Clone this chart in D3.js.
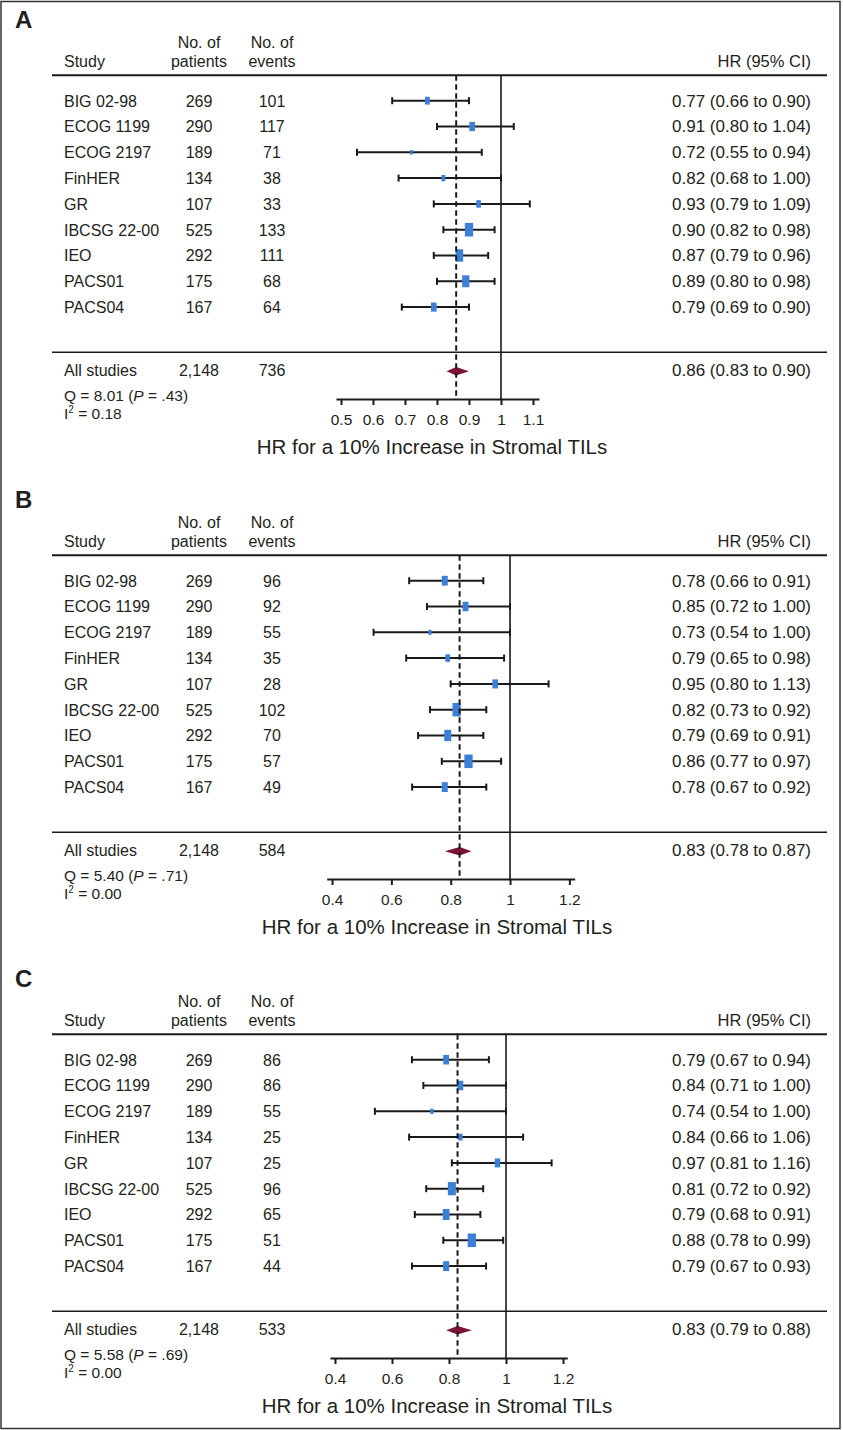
<!DOCTYPE html>
<html><head><meta charset="utf-8">
<script src="https://cdn.jsdelivr.net/npm/d3@7"></script>
<style>
html,body{margin:0;padding:0;background:#fff;}
svg{display:block;}
text{font-family:"Liberation Sans",Arial,Helvetica,sans-serif;fill:#231f20;}
</style></head>
<body>
<svg id="chart" width="843" height="1430"></svg>
<script>
// ---------- data ----------
const studies = ["BIG 02-98","ECOG 1199","ECOG 2197","FinHER","GR","IBCSG 22-00","IEO","PACS01","PACS04"];
const patients = [269,290,189,134,107,525,292,175,167];
const totalPatients = "2,148";

const eventsA = [101,117,71,38,33,133,111,68,64];
const hrA = [0.77,0.91,0.72,0.82,0.93,0.90,0.87,0.89,0.79];
const loA = [0.66,0.80,0.55,0.68,0.79,0.82,0.79,0.80,0.69];
const hiA = [0.90,1.04,0.94,1.00,1.09,0.98,0.96,0.98,0.90];
const pooledA = {events:736, hr:0.86, lo:0.83, hi:0.90, q:"8.01", p:".43", i2:"0.18"};
const ticksA = [0.5,0.6,0.7,0.8,0.9,1,1.1];
const domainA = [0.4844,1.1188];

const eventsB = [96,92,55,35,28,102,70,57,49];
const hrB = [0.78,0.85,0.73,0.79,0.95,0.82,0.79,0.86,0.78];
const loB = [0.66,0.72,0.54,0.65,0.80,0.73,0.69,0.77,0.67];
const hiB = [0.91,1.00,1.00,0.98,1.13,0.92,0.91,0.97,0.92];
const pooledB = {events:584, hr:0.83, lo:0.78, hi:0.87, q:"5.40", p:".71", i2:"0.00"};
const ticksB = [0.4,0.6,0.8,1,1.2];
const domainB = [0.382,1.218];

const eventsC = [86,86,55,25,25,96,65,51,44];
const hrC = [0.79,0.84,0.74,0.84,0.97,0.81,0.79,0.88,0.79];
const loC = [0.67,0.71,0.54,0.66,0.81,0.72,0.68,0.78,0.67];
const hiC = [0.94,1.00,1.00,1.06,1.16,0.92,0.91,0.99,0.93];
const pooledC = {events:533, hr:0.83, lo:0.79, hi:0.88, q:"5.58", p:".69", i2:"0.00"};
const ticksC = [0.4,0.6,0.8,1,1.2];
const domainC = [0.3825,1.215];

const panelLabels = ["A","B","C"];
const axisTitle = "HR for a 10% Increase in Stromal TILs";

// ---------- layout ----------
const svg = d3.select("#chart");
svg.append("rect").attr("x",1).attr("y",1.5).attr("width",839).attr("height",1427)
  .attr("fill","none").attr("stroke","#333").attr("stroke-width",1.5);

const L = {
  letterX:15, letterY:28, hdr1Y:47.5, hdr2Y:66.5, hdrLineY:75.3,
  row0:100.7, rowStep:25.8, sepY:352.3, allY:371.3, qY:401, i2Y:419.3,
  axisY:399, titleY:454, lineX0:52, lineX1:827,
  studyX:64, patX:199, evX:272, hrX:811
};
const fmt = d3.format(".2f");
const blue = "#3b7fd6", dred = "#7d1434", ink = "#1a1a1a";

function drawPanel(offsetY, label, events, hr, lo, hi, pooled, ticks, domain, range, titleX){
  const g = svg.append("g").attr("transform",`translate(0,${offsetY})`);
  const x = d3.scaleLinear().domain(domain).range(range);
  const rowY = d3.scaleLinear().domain([0,1]).range([L.row0, L.row0+L.rowStep]);

  g.append("text").attr("x",L.letterX).attr("y",L.letterY).text(label)
    .style("font-size","24px").style("font-weight","bold");

  // headers
  const h = g.append("g").style("font-size","16px");
  h.append("text").attr("x",L.studyX).attr("y",L.hdr2Y).text("Study");
  h.append("text").attr("x",L.patX).attr("y",L.hdr1Y).attr("text-anchor","middle").text("No. of");
  h.append("text").attr("x",L.patX).attr("y",L.hdr2Y).attr("text-anchor","middle").text("patients");
  h.append("text").attr("x",L.evX).attr("y",L.hdr1Y).attr("text-anchor","middle").text("No. of");
  h.append("text").attr("x",L.evX).attr("y",L.hdr2Y).attr("text-anchor","middle").text("events");
  h.append("text").attr("x",L.hrX).attr("y",L.hdr2Y).attr("text-anchor","end").style("font-size","16.5px").text("HR (95% CI)");

  g.append("line").attr("x1",L.lineX0).attr("x2",L.lineX1).attr("y1",L.hdrLineY).attr("y2",L.hdrLineY)
    .attr("stroke",ink).attr("stroke-width",2);
  g.append("line").attr("x1",L.lineX0).attr("x2",L.lineX1).attr("y1",L.sepY).attr("y2",L.sepY)
    .attr("stroke",ink).attr("stroke-width",1.6);

  // weights (inverse variance from CI) -> box size
  const w = hr.map((d,i)=>{const se=(Math.log(hi[i])-Math.log(lo[i]))/3.92; return 1/(se*se);});
  const side = d3.scaleSqrt().domain([0,d3.max(w)]).range([0,10.6]);

  const rows = g.append("g").selectAll("g").data(studies).join("g")
    .attr("transform",(d,i)=>`translate(0,${rowY(i)})`);
  rows.append("text").attr("x",L.studyX).attr("y",5.8).style("font-size","16px").text(d=>d);
  rows.append("text").attr("x",L.patX).attr("y",5.8).attr("text-anchor","middle").style("font-size","16px").text((d,i)=>patients[i]);
  rows.append("text").attr("x",L.evX).attr("y",5.8).attr("text-anchor","middle").style("font-size","16px").text((d,i)=>events[i]);
  rows.append("text").attr("x",L.hrX).attr("y",5.8).attr("text-anchor","end").style("font-size","17px")
    .text((d,i)=>`${fmt(hr[i])} (${fmt(lo[i])} to ${fmt(hi[i])})`);
  rows.append("line").attr("x1",(d,i)=>x(lo[i])).attr("x2",(d,i)=>x(hi[i])).attr("y1",0).attr("y2",0)
    .attr("stroke",ink).attr("stroke-width",2);
  rows.append("line").attr("x1",(d,i)=>x(lo[i])).attr("x2",(d,i)=>x(lo[i])).attr("y1",-3.5).attr("y2",3.5)
    .attr("stroke",ink).attr("stroke-width",2);
  rows.append("line").attr("x1",(d,i)=>x(hi[i])).attr("x2",(d,i)=>x(hi[i])).attr("y1",-3.5).attr("y2",3.5)
    .attr("stroke",ink).attr("stroke-width",2);
  rows.append("rect")
    .attr("x",(d,i)=>x(hr[i])-side(w[i])*0.78/2).attr("y",(d,i)=>-side(w[i])*1.28/2)
    .attr("width",(d,i)=>side(w[i])*0.78).attr("height",(d,i)=>side(w[i])*1.28)
    .attr("fill",blue);

  // pooled row
  const fs = g.append("g");
  fs.append("text").attr("x",L.studyX).attr("y",L.allY+5).style("font-size","16px").text("All studies");
  fs.append("text").attr("x",L.patX).attr("y",L.allY+5).attr("text-anchor","middle").style("font-size","16px").text(totalPatients);
  fs.append("text").attr("x",L.evX).attr("y",L.allY+5).attr("text-anchor","middle").style("font-size","16px").text(pooled.events);
  fs.append("text").attr("x",L.hrX).attr("y",L.allY+5).attr("text-anchor","end").style("font-size","17px")
    .text(`${fmt(pooled.hr)} (${fmt(pooled.lo)} to ${fmt(pooled.hi)})`);
  const q = fs.append("text").attr("x",L.studyX).attr("y",L.qY).style("font-size","15.5px");
  q.append("tspan").text(`Q = ${pooled.q} (`);
  q.append("tspan").style("font-style","italic").text("P");
  q.append("tspan").text(` = ${pooled.p})`);
  const i2 = fs.append("text").attr("x",L.studyX).attr("y",L.i2Y).style("font-size","15.5px");
  i2.append("tspan").text("I");
  i2.append("tspan").attr("dy",-6).style("font-size","10px").text("2");
  i2.append("tspan").attr("dy",6).text(` = ${pooled.i2}`);

  fs.append("path")
    .attr("d",`M${x(pooled.lo)},${L.allY} L${x(pooled.hr)},${L.allY-4.2} L${x(pooled.hi)},${L.allY} L${x(pooled.hr)},${L.allY+4.2} Z`)
    .attr("fill",dred);

  // reference lines
  g.append("line").attr("x1",x(1)).attr("x2",x(1)).attr("y1",L.hdrLineY).attr("y2",L.axisY)
    .attr("stroke",ink).attr("stroke-width",1.6);
  g.append("line").attr("x1",x(pooled.hr)).attr("x2",x(pooled.hr)).attr("y1",L.hdrLineY).attr("y2",L.axisY)
    .attr("stroke",ink).attr("stroke-width",2).attr("stroke-dasharray","5.5,3.5");

  // axis
  const ax = g.append("g").attr("transform",`translate(0,${L.axisY})`)
    .call(d3.axisBottom(x).tickValues(ticks).tickSize(6).tickSizeOuter(0).tickPadding(9).tickFormat(d=>String(d)));
  ax.select(".domain").attr("stroke",ink).attr("stroke-width",2);
  ax.selectAll(".tick line").attr("stroke",ink).attr("stroke-width",2);
  ax.selectAll(".tick text").style("font-size","15.5px").style("font-family","'Liberation Sans',Arial,sans-serif").attr("fill","#231f20");

  g.append("text").attr("x",titleX).attr("y",L.titleY).attr("text-anchor","middle")
    .style("font-size","20.5px").text(axisTitle);
}

drawPanel(0, panelLabels[0], eventsA, hrA, loA, hiA, pooledA, ticksA, domainA, [336,539], 432);
drawPanel(480, panelLabels[1], eventsB, hrB, loB, hiB, pooledB, ticksB, domainB, [326.7,574.7], 437);
drawPanel(959, panelLabels[2], eventsC, hrC, loC, hiC, pooledC, ticksC, domainC, [330,567.3], 437);
</script>
</body></html>
